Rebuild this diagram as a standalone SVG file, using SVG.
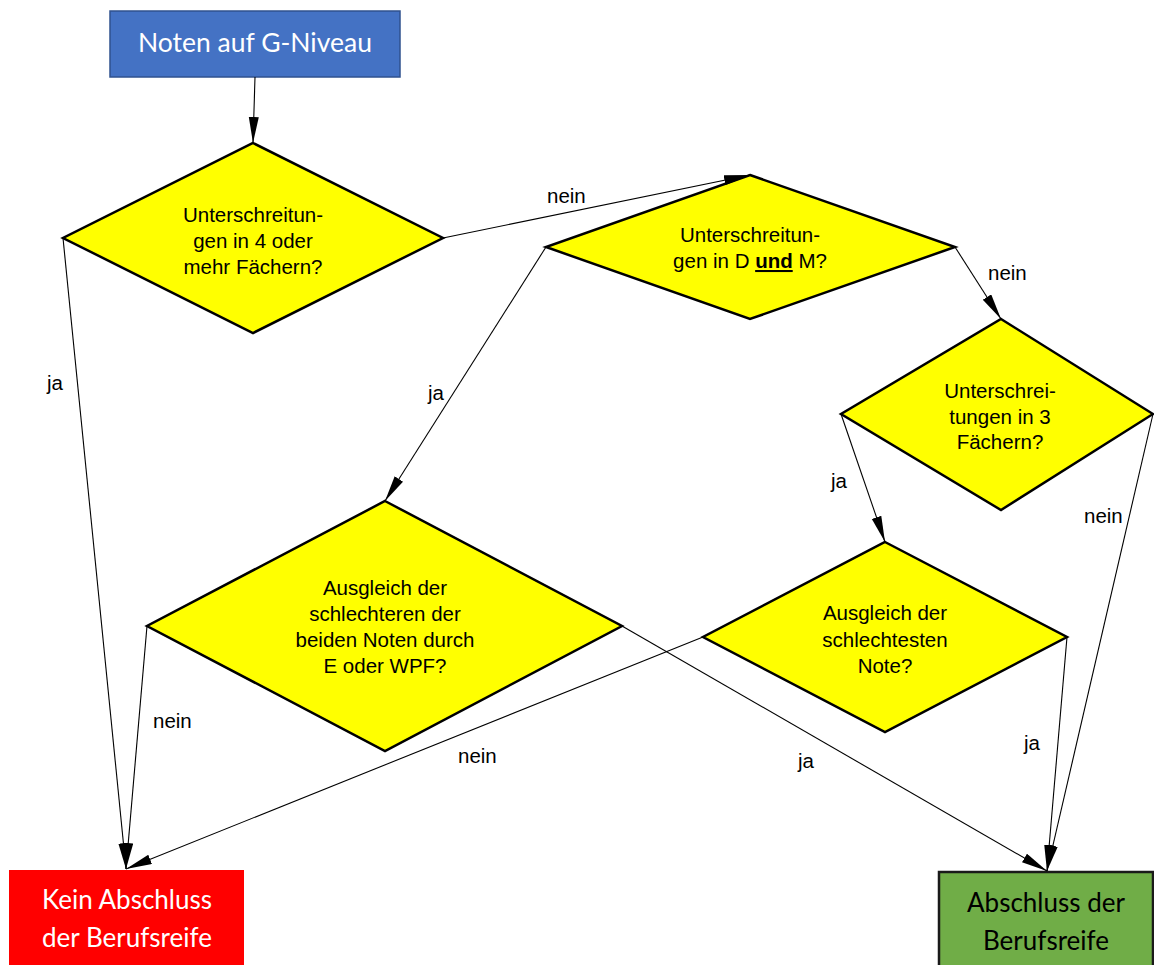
<svg xmlns="http://www.w3.org/2000/svg" width="1154" height="965" viewBox="0 0 1154 965">
<style>
.dia{fill:#FFFF00;stroke:#000;stroke-width:2.5;stroke-linejoin:miter}
.dt{font-family:"Liberation Sans",Arial,sans-serif;font-size:20.5px;fill:#000;text-anchor:middle}
.lbl{font-family:"Liberation Sans",Arial,sans-serif;font-size:20.5px;fill:#000}
.bt{font-family:Lato,"Open Sans",sans-serif;font-size:26.5px;text-anchor:middle}
.bb{font-size:26px}
.con line{stroke:#000;stroke-width:1.1;fill:none;marker-end:url(#ah)}
</style>
<defs>
<marker id="ah" markerUnits="userSpaceOnUse" markerWidth="27" markerHeight="11" refX="26" refY="5" orient="auto">
<path d="M0,0 L26,5 L0,10 z" fill="#000"/>
</marker>
</defs>
<rect width="1154" height="965" fill="#fff"/>
<g id="start">
<rect x="110" y="11" width="290" height="66" fill="#4472C4" stroke="#2F528F" stroke-width="1.5"/>
<text class="bt" x="255" y="52" fill="#fff">Noten auf G-Niveau</text>
</g>
<g id="d1">
<polygon class="dia" points="253,143 443,238 253,333 63,238"/>
<text class="dt" x="253" y="222">Unterschreitun-</text>
<text class="dt" x="253" y="248">gen in 4 oder</text>
<text class="dt" x="253" y="274">mehr Fächern?</text>
</g>
<g id="d2">
<polygon class="dia" points="750,175 955,247 750,319 546,247"/>
<text class="dt" x="750" y="242">Unterschreitun-</text>
<text class="dt" x="750" y="268">gen in D <tspan font-weight="bold" text-decoration="underline">und</tspan> M?</text>
</g>
<g id="d3">
<polygon class="dia" points="1001,319 1153,414 1001,510 841,414"/>
<text class="dt" x="1000" y="398">Unterschrei-</text>
<text class="dt" x="1000" y="424">tungen in 3</text>
<text class="dt" x="1000" y="449">Fächern?</text>
</g>
<g id="d4">
<polygon class="dia" points="885,542 1067,637 885,732 703,637"/>
<text class="dt" x="885" y="620">Ausgleich der</text>
<text class="dt" x="885" y="647">schlechtesten</text>
<text class="dt" x="885" y="673">Note?</text>
</g>
<g id="d5">
<polygon class="dia" points="385,501 622,626 385,751 147,626"/>
<text class="dt" x="385" y="595">Ausgleich der</text>
<text class="dt" x="385" y="621">schlechteren der</text>
<text class="dt" x="385" y="647">beiden Noten durch</text>
<text class="dt" x="385" y="673">E oder WPF?</text>
</g>
<g id="kein">
<rect x="9" y="870" width="235" height="100" fill="#FF0000"/>
<text class="bt bb" x="127" y="909" fill="#fff">Kein Abschluss</text>
<text class="bt bb" x="127" y="947" fill="#fff">der Berufsreife</text>
</g>
<g id="abschluss">
<rect x="939" y="872" width="214" height="100" fill="#70AD47" stroke="#1a1a1a" stroke-width="2.5"/>
<text class="bt bb" x="1046" y="912" fill="#000">Abschluss der</text>
<text class="bt bb" x="1046" y="950" fill="#000">Berufsreife</text>
</g>
<g id="connectors" class="con">
<line x1="255" y1="77" x2="253" y2="143"/>
<line x1="63" y1="238" x2="126" y2="869"/>
<line x1="443" y1="238" x2="750" y2="175"/>
<line x1="546" y1="247" x2="385" y2="501"/>
<line x1="955" y1="247" x2="1001" y2="319"/>
<line x1="841" y1="414" x2="885" y2="542"/>
<line x1="1153" y1="414" x2="1047" y2="871"/>
<line x1="1067" y1="637" x2="1047" y2="871"/>
<line x1="703" y1="637" x2="126" y2="869"/>
<line x1="147" y1="626" x2="126" y2="869"/>
<line x1="622" y1="626" x2="1047" y2="871"/>
</g>
<g id="labels">
<text class="lbl" x="47" y="390">ja</text>
<text class="lbl" x="547" y="203">nein</text>
<text class="lbl" x="428" y="400">ja</text>
<text class="lbl" x="988" y="280">nein</text>
<text class="lbl" x="831" y="488">ja</text>
<text class="lbl" x="1084" y="523">nein</text>
<text class="lbl" x="1024" y="750">ja</text>
<text class="lbl" x="458" y="763">nein</text>
<text class="lbl" x="153" y="728">nein</text>
<text class="lbl" x="798" y="768">ja</text>
</g>
</svg>
